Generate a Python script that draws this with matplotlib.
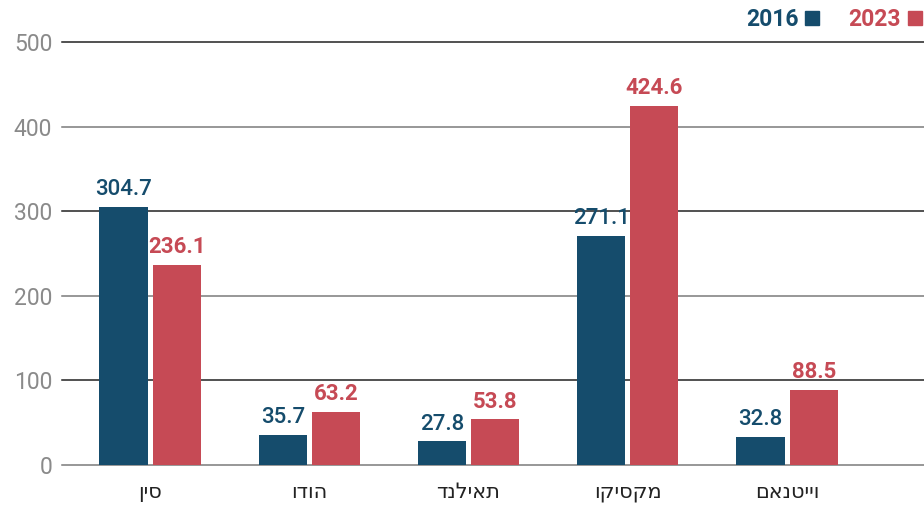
import matplotlib.pyplot as plt
import numpy as np
from matplotlib.patches import Patch

plt.rcParams['font.family'] = ['Roboto', 'DejaVu Sans']

countries = ["סין", "הודו", "תאילנד", "מקסיקו", "וייטנאם"]
v2016 = [304.7, 35.7, 27.8, 271.1, 32.8]
v2023 = [236.1, 63.2, 53.8, 424.6, 88.5]
yticks = [0, 100, 200, 300, 400, 500]

BLUE = "#154c6c"
RED = "#c64a55"

fig = plt.figure(figsize=(9.24, 5.07), dpi=100)
ax = fig.add_axes([62/924, 42/507, 1 - 62/924, 423/507])

x = np.arange(len(countries))
w = 0.302
off = 0.167
ax.bar(x - off, v2016, w, color=BLUE, zorder=3)
ax.bar(x + off, v2023, w, color=RED, zorder=3)

for xi, a, b in zip(x, v2016, v2023):
    ax.annotate(f"{a:.1f}", (xi - off, a), xytext=(0, 5), textcoords="offset points",
                ha="center", va="bottom", color=BLUE, fontsize=16, fontweight="medium")
    ax.annotate(f"{b:.1f}", (xi + off, b), xytext=(0, 5), textcoords="offset points",
                ha="center", va="bottom", color=RED, fontsize=16, fontweight="bold")

# grid lines, alternating dark/grey like the original
for i, t in enumerate(yticks):
    ax.axhline(t, color="#222222" if i % 2 else "#7a7a7a", lw=1.1, zorder=1, clip_on=False)

ax.set_xlim(-0.553, 4.86)
ax.set_ylim(0, 500)
ax.set_yticks(yticks)
ax.set_yticklabels([str(t) for t in yticks], color="#8a8a8a", fontsize=16.5)
ax.set_xticks(x)
# matplotlib has no bidi support, so reverse the Hebrew strings
ax.set_xticklabels([c[::-1] for c in countries], fontsize=15, color="#222222",
                   family=["DejaVu Sans"])
ax.tick_params(axis="both", length=0)
ax.tick_params(axis="y", pad=7)
ax.tick_params(axis="x", pad=12)
for s in ax.spines.values():
    s.set_visible(False)

handles = [Patch(color=BLUE), Patch(color=RED)]
leg = fig.legend(handles, ["2016", "2023"], loc="upper right", bbox_to_anchor=(1.02, 1.025),
                 ncol=2, markerfirst=False, frameon=False, handlelength=0.6, handleheight=0.6,
                 handletextpad=0.3, columnspacing=1.3,
                 labelcolor=[BLUE, RED], prop={"weight": "bold", "size": 16.5})

fig.savefig("out.png", dpi=100)
